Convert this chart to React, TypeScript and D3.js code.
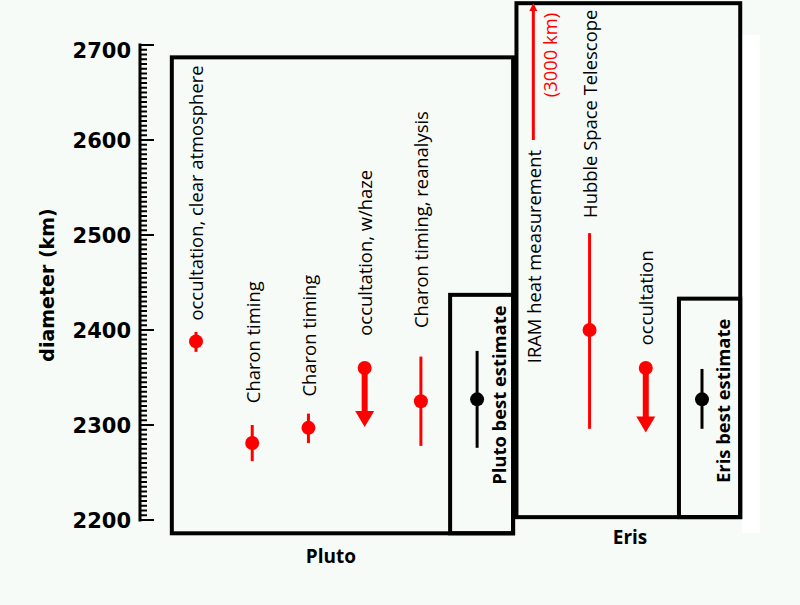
import React, { useRef, useEffect } from "react";
import * as d3 from "d3";

// measurements, left to right
const names = [
  "occultation, clear atmosphere",
  "Charon timing",
  "Charon timing",
  "occultation, w/haze",
  "Charon timing, reanalysis",
  "Pluto best estimate",
  "IRAM heat measurement",
  "Hubble Space Telescope",
  "occultation",
  "Eris best estimate",
];
const kinds = ["point", "point", "point", "upper", "point", "best", "offscale", "point", "upper", "best"];
const centers = [2388, 2281, 2297, 2360, 2325, 2327, 3000, 2400, 2360, 2327];
const lows = [2377, 2262, 2281, 2298, 2278, 2276, 2600, 2296, 2292, 2296];
const highs = [2398, 2300, 2312, 2360, 2372, 2378, 3400, 2502, 2360, 2359];
// diameter at which each rotated label starts
const labelAt = [2410, 2323, 2330, 2394, 2402, 2237, 2365, 2518, 2384, 2239];

const groups = ["Pluto", "Eris"];
const yTicks = [2200, 2300, 2400, 2500, 2600, 2700];
const offscaleNote = "(3000 km)";

export default function App() {
  const ref = useRef<SVGSVGElement>(null);

  useEffect(() => {
    if (!ref.current) return;
    const svg = d3.select(ref.current);
    svg.selectAll("*").remove();

    const x = d3.scaleLinear().domain([0, 9]).range([196, 702]);
    const y = d3.scaleLinear().domain([2200, 2700]).range([520, 45]);
    const ceil = 3; // top edge of the drawing, for off-scale values
    const red = "#ff0000";

    svg.append("rect").attr("width", 800).attr("height", 605).attr("fill", "#f7fbf7");
    svg.append("rect").attr("x", 742).attr("y", 35).attr("width", 18).attr("height", 498).attr("fill", "#ffffff");

    // y axis with 5 km minor ticks
    const axis = svg.append("g");
    axis.append("line")
      .attr("x1", 140).attr("x2", 140)
      .attr("y1", y(2700) - 1.5).attr("y2", y(2200) + 1.5)
      .attr("stroke", "#000").attr("stroke-width", 3);
    axis.selectAll(".minor")
      .data(d3.range(2200, 2701, 5))
      .enter().append("line")
      .attr("x1", 140)
      .attr("x2", d => (d % 100 === 0 ? 154 : 147))
      .attr("y1", d => y(d)).attr("y2", d => y(d))
      .attr("stroke", "#000").attr("stroke-width", 2);
    axis.selectAll(".tl")
      .data(yTicks)
      .enter().append("text")
      .attr("x", 131)
      .attr("y", d => y(d) + (d === 2700 ? 5 : 0))
      .attr("dy", "0.36em")
      .attr("text-anchor", "end")
      .attr("font-family", "DejaVu Sans")
      .attr("font-weight", "bold")
      .attr("font-size", 21)
      .text(d => d);
    axis.append("text")
      .attr("transform", "translate(47,285) rotate(-90)")
      .attr("dy", "0.35em")
      .attr("text-anchor", "middle")
      .attr("font-family", "DejaVu Sans")
      .attr("font-weight", "bold")
      .attr("font-size", 19)
      .text("diameter  (km)");

    // group frames
    const frame = (i0: number, i1: number, d0: number, d1: number) =>
      svg.append("rect")
        .attr("x", x(i0)).attr("y", y(d1))
        .attr("width", x(i1) - x(i0)).attr("height", y(d0) - y(d1))
        .attr("fill", "none").attr("stroke", "#000").attr("stroke-width", 4);
    frame(-0.43, 5.64, 2186, 2687);
    frame(4.52, 5.64, 2186, 2437);
    frame(5.7, 9.68, 2203, 2744);
    frame(8.59, 9.68, 2203, 2433);

    // marks
    names.forEach((_, i) => {
      const cx = x(i);
      const kind = kinds[i];
      const color = kind === "best" ? "#000" : red;
      if (kind === "point" || kind === "best") {
        svg.append("line")
          .attr("x1", cx).attr("x2", cx)
          .attr("y1", y(lows[i])).attr("y2", y(highs[i]))
          .attr("stroke", color).attr("stroke-width", 3);
        svg.append("circle").attr("cx", cx).attr("cy", y(centers[i])).attr("r", 7).attr("fill", color);
      } else if (kind === "upper") {
        const tip = y(lows[i]);
        svg.append("line")
          .attr("x1", cx).attr("x2", cx)
          .attr("y1", y(centers[i])).attr("y2", tip - 14)
          .attr("stroke", red).attr("stroke-width", 6);
        svg.append("path")
          .attr("d", d3.line()([[cx - 9.5, tip - 16], [cx + 9.5, tip - 16], [cx, tip]]) + "Z")
          .attr("fill", red);
        svg.append("circle").attr("cx", cx).attr("cy", y(centers[i])).attr("r", 7).attr("fill", red);
      } else {
        const top = Math.max(y(highs[i]), ceil);
        svg.append("line")
          .attr("x1", cx).attr("x2", cx)
          .attr("y1", y(lows[i])).attr("y2", top + 6)
          .attr("stroke", red).attr("stroke-width", 3);
        svg.append("path")
          .attr("d", d3.line()([[cx - 4, top + 8], [cx + 4, top + 8], [cx, top]]) + "Z")
          .attr("fill", red);
        svg.append("text")
          .attr("transform", `translate(${cx + 17},${y(2645)}) rotate(-90)`)
          .attr("dy", "0.35em")
          .attr("font-family", "Open Sans")
          .attr("font-size", 18.4)
          .attr("fill", red)
          .text(offscaleNote);
      }
      const best = kind === "best";
      svg.append("text")
        .attr("transform", `translate(${cx + (best ? 22 : 1)},${y(labelAt[i])}) rotate(-90)`)
        .attr("dy", "0.35em")
        .attr("font-family", "Open Sans")
        .attr("font-weight", best ? "bold" : "normal")
        .attr("font-size", 18.4)
        .attr("fill", "#000")
        .text(names[i]);
    });

    // group names under the frames
    const groupPos = [[2.4, 2162], [7.72, 2182]];
    groups.forEach((g, k) => {
      svg.append("text")
        .attr("x", x(groupPos[k][0])).attr("y", y(groupPos[k][1]))
        .attr("dy", "0.35em")
        .attr("text-anchor", "middle")
        .attr("font-family", "Open Sans")
        .attr("font-weight", "bold")
        .attr("font-size", 19)
        .text(g);
    });
  }, []);

  return <svg ref={ref} width={800} height={605} style={{ position: "absolute", left: 0, top: 0, display: "block" }} />;
}
